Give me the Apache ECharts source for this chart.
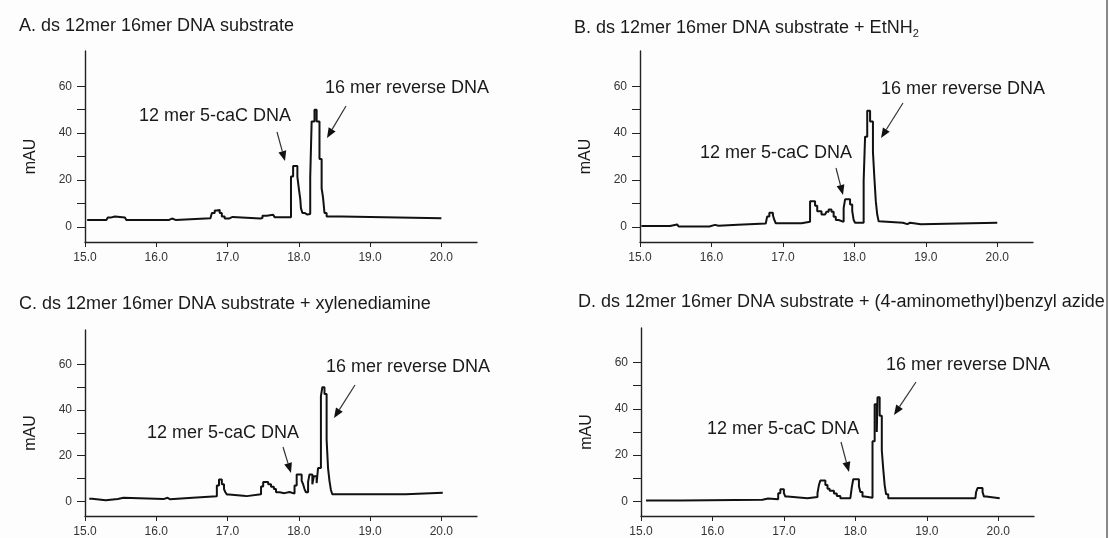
<!DOCTYPE html>
<html><head><meta charset="utf-8">
<script src="https://cdn.jsdelivr.net/npm/echarts@6/dist/echarts.min.js"></script>
<style>html,body{margin:0;padding:0;background:#fdfdfd}#c{width:1109px;height:538px}</style>
</head><body><div id="c"></div>
<script>
// ---- data: [retention time (min), absorbance (mAU)] ----
const traceA = [[15.03,3.0],[15.30,3.0],[15.32,4.0],[15.36,4.5],[15.42,4.0],[15.56,3.8],[15.58,3.0],[16.18,3.0],[16.20,3.6],[16.22,3.0],[16.27,3.7],[16.76,3.8],[16.78,6.0],[16.82,7.0],[16.85,7.3],[16.89,6.0],[16.92,4.5],[16.96,3.6],[17.02,4.3],[17.07,3.6],[17.46,3.8],[17.49,4.8],[17.55,5.2],[17.64,5.0],[17.66,4.2],[17.89,21.5],[17.92,26],[17.98,21.4],[18.00,16.5],[18.02,12],[18.03,8],[18.05,6],[18.08,5.3],[18.12,5.5],[18.16,21],[18.18,45],[18.22,50],[18.25,45],[18.29,29],[18.32,16.5],[18.34,12.5],[18.36,6],[18.39,4.5],[18.60,4.5],[18.62,3.7],[20.00,3.7]];
const traceB = [[15.02,0.4],[15.42,0.4],[15.44,1.1],[15.52,1.0],[15.54,0.2],[15.97,0.2],[15.99,0.9],[16.05,0.5],[16.10,1.0],[16.37,1.0],[16.39,1.5],[16.76,1.6],[16.78,4.5],[16.81,6.1],[16.86,5],[16.88,3],[16.90,1.6],[17.26,1.8],[17.28,2.2],[17.38,11],[17.45,9],[17.48,6.7],[17.54,5.3],[17.59,5.5],[17.61,6.5],[17.64,7.5],[17.68,6.5],[17.71,4.4],[17.74,3],[17.78,2.2],[17.85,8],[17.87,11.8],[17.94,9.6],[17.97,6.8],[17.99,3],[18.01,1.8],[18.13,19.7],[18.15,38.5],[18.18,49.5],[18.22,45],[18.26,32],[18.28,21],[18.30,11],[18.32,5.3],[18.34,2.4],[18.36,1.8],[18.68,1.8],[18.70,1.2],[18.74,1.8],[18.78,1.2],[18.93,1.2],[18.95,1.8],[20.00,1.8]];
const traceC = [[15.06,1.2],[15.10,0.5],[15.29,1.0],[15.46,1.6],[15.54,1.0],[16.10,1.6],[16.16,0.9],[16.19,1.6],[16.51,2.2],[16.85,7],[16.88,9.6],[16.92,7.5],[16.95,5.4],[16.97,4],[16.99,3],[17.02,2.5],[17.22,2.3],[17.27,3.1],[17.47,6.5],[17.50,8.5],[17.57,7.5],[17.61,6.4],[17.65,5.4],[17.68,4],[17.73,3.6],[17.80,4.1],[17.87,3.4],[17.94,7],[17.97,11.8],[18.04,9],[18.06,7.5],[18.08,5.4],[18.10,4],[18.13,8.5],[18.15,11.8],[18.19,7.5],[18.21,11],[18.25,8],[18.27,14.6],[18.31,46],[18.33,50],[18.36,47],[18.39,27],[18.41,14.6],[18.43,9],[18.45,5],[18.47,3.1],[19.50,3.1],[19.52,3.8],[20.02,4.0]];
const traceD = [[15.07,0.3],[15.56,0.3],[15.58,0.6],[16.70,0.6],[16.72,1.2],[16.78,0.9],[16.92,3.5],[16.95,5.2],[17.00,3.5],[17.02,2],[17.05,1.3],[17.33,1.8],[17.47,3.5],[17.49,7],[17.51,9],[17.58,7],[17.61,5.4],[17.64,4.5],[17.70,3.3],[17.74,2.3],[17.79,1.3],[17.93,2],[17.95,6],[17.97,9.5],[18.05,6.5],[18.07,4],[18.10,2],[18.13,1.5],[18.24,26],[18.27,42],[18.30,30],[18.31,45],[18.34,37],[18.37,22],[18.39,14],[18.41,7],[18.43,3],[18.46,1.3],[19.68,1.3],[19.69,4],[19.71,5.7],[19.78,4],[19.80,2],[19.83,1.3],[20.02,1.3]];

const xTickValues = [15, 16, 17, 18, 19, 20];
const yLabelValues = [0, 20, 40, 60];
const yTickValues = [0, 10, 20, 30, 40, 50, 60];
const panelTitles = [
  'A. ds 12mer 16mer DNA substrate',
  'B. ds 12mer 16mer DNA substrate + EtNH{sub|2}',
  'C. ds 12mer 16mer DNA substrate + xylenediamine',
  'D. ds 12mer 16mer DNA substrate + (4-aminomethyl)benzyl azide'
];
const peakLabel12 = '12 mer 5-caC DNA';
const peakLabel16 = '16 mer reverse DNA';
const yAxisName = 'mAU';

// ---- layout (pixels) ----
const layout = [
  {grid:{left:85,top:51,width:392,height:191}, title:[14,22], l12:[139,117], l16:[325,89], a12:[277,132,285,161], a16:[346,106,327,138]},
  {grid:{left:640,top:51,width:393,height:191}, title:[569,23], l12:[700,154], l16:[881,90], a12:[836,168,843,195], a16:[903,103,881,138]},
  {grid:{left:85,top:330,width:392,height:192}, title:[14,300], l12:[147,434], l16:[326,368], a12:[283,447,291,473], a16:[355,385,334,418]},
  {grid:{left:641,top:328,width:393,height:192}, title:[573,298], l12:[707,430], l16:[886,366], a12:[841,442,849,472], a16:[916,382,894,415]}
];
const traces = [traceA, traceB, traceC, traceD];
const FONT = '"Liberation Sans", Arial, sans-serif';
const INK = '#1a1a1a';

function arrow(x1, y1, x2, y2) {
  const dx = x2 - x1, dy = y2 - y1, L = Math.hypot(dx, dy);
  const ux = dx / L, uy = dy / L, hl = 10, hw = 4;
  const bx = x2 - ux * hl, by = y2 - uy * hl;
  return [
    {type:'line', shape:{x1, y1, x2:bx, y2:by}, style:{stroke:'#333', lineWidth:1.2}},
    {type:'polygon', shape:{points:[[x2,y2],[bx - uy*hw, by + ux*hw],[bx + uy*hw, by - ux*hw]]}, style:{fill:'#111'}}
  ];
}

const option = {
  backgroundColor: '#fdfdfd',
  animation: false,
  title: [], grid: [], xAxis: [], yAxis: [], series: [], graphic: []
};

layout.forEach((p, i) => {
  option.grid.push(p.grid);
  option.title.push({
    text: panelTitles[i], left: p.title[0], top: p.title[1] - 10,
    textStyle: {fontFamily: FONT, fontSize: 18, fontWeight: 'normal', color: INK,
      rich: {sub: {fontFamily: FONT, fontSize: 11, color: INK, verticalAlign: 'bottom', padding: [10, 0, 0, 0]}}}
  });
  option.xAxis.push({
    type: 'value', gridIndex: i, min: 15, max: 20.5,
    axisLine: {onZero: false, lineStyle: {color: '#222', width: 1.4}},
    axisTick: {customValues: xTickValues, length: 5, lineStyle: {color: '#222'}},
    axisLabel: {customValues: xTickValues, formatter: v => v.toFixed(1), fontFamily: FONT, fontSize: 12, color: '#333', margin: 10},
    splitLine: {show: false}
  });
  option.yAxis.push({
    type: 'value', gridIndex: i, min: -6.4, max: 75,
    name: yAxisName, nameLocation: 'middle', nameGap: 46,
    nameTextStyle: {fontFamily: FONT, fontSize: 16, color: INK, padding: [0, 20, 0, 0]},
    axisLine: {show: true, lineStyle: {color: '#222', width: 1.4}},
    axisTick: {show: true, customValues: yTickValues, length: 8, lineStyle: {color: '#222'}},
    axisLabel: {customValues: yLabelValues, fontFamily: FONT, fontSize: 12, color: '#333', margin: 13},
    splitLine: {show: false}
  });
  option.series.push({
    type: 'line', xAxisIndex: i, yAxisIndex: i, step: 'end', showSymbol: false,
    lineStyle: {color: '#111', width: 2}, data: traces[i], silent: true
  });
  option.graphic.push(
    {type:'text', left: p.l12[0], top: p.l12[1] - 10, style:{text: peakLabel12, font: '18px ' + FONT, fill: INK}},
    {type:'text', left: p.l16[0], top: p.l16[1] - 10, style:{text: peakLabel16, font: '18px ' + FONT, fill: INK}},
    ...arrow(...p.a12), ...arrow(...p.a16)
  );
});
option.graphic.push({type:'line', shape:{x1:1107, y1:0, x2:1107, y2:538}, style:{stroke:'#888', lineWidth:2}});

const chart = echarts.init(document.getElementById('c'), null, {renderer: 'canvas'});
chart.setOption(option);
</script>
</body></html>
